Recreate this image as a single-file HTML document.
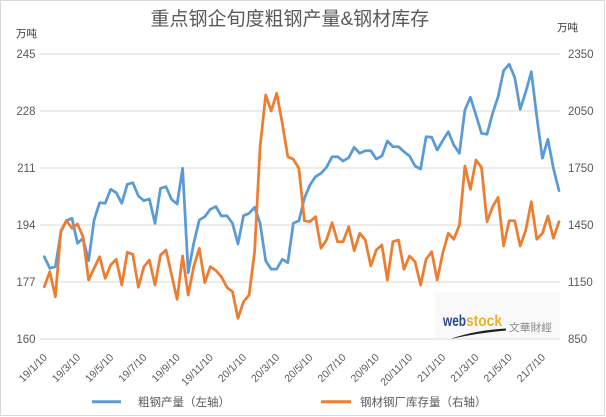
<!DOCTYPE html>
<html>
<head>
<meta charset="utf-8">
<style>
  html,body{margin:0;padding:0;background:#fff;}
  svg{display:block;}
  text{font-family:"Liberation Sans","Noto Sans CJK SC",sans-serif;}
</style>
</head>
<body>
<svg width="606" height="417" viewBox="0 0 606 417" xmlns="http://www.w3.org/2000/svg">
  <rect x="0" y="0" width="606" height="417" fill="#ffffff"/>
  <rect x="0.5" y="0.5" width="604" height="415" fill="none" stroke="#d9d9d9" stroke-width="1"/>

  <!-- Title -->
  <text x="150.5" y="25" font-size="19" fill="#595959">重点钢企旬度粗钢产量&amp;钢材库存</text>

  <!-- Unit labels -->
  <text x="16" y="37" font-size="10.5" fill="#333">万吨</text>
  <text x="557" y="31" font-size="10.5" fill="#333">万吨</text>

  <!-- Gridlines -->
  <g stroke="#d9d9d9" stroke-width="1">
    <line x1="40" y1="54" x2="560" y2="54"/>
    <line x1="40" y1="111" x2="560" y2="111"/>
    <line x1="40" y1="168" x2="560" y2="168"/>
    <line x1="40" y1="225" x2="560" y2="225"/>
    <line x1="40" y1="282" x2="560" y2="282"/>
    <line x1="40" y1="339" x2="560" y2="339"/>
  </g>

  <!-- Left axis labels -->
  <g font-size="11.5" fill="#595959" text-anchor="end">
    <text x="35.5" y="58">245</text>
    <text x="35.5" y="115">228</text>
    <text x="35.5" y="172">211</text>
    <text x="35.5" y="229">194</text>
    <text x="35.5" y="286">177</text>
    <text x="35.5" y="343">160</text>
  </g>
  <!-- Right axis labels -->
  <g font-size="11.5" fill="#595959">
    <text x="568" y="58">2350</text>
    <text x="568" y="115">2050</text>
    <text x="568" y="172">1750</text>
    <text x="568" y="229">1450</text>
    <text x="568" y="286">1150</text>
    <text x="568" y="343">850</text>
  </g>

  <!-- Watermark -->
  <rect x="435" y="292" width="125" height="46" fill="#f9f9f9"/>
  <text x="443" y="326" font-size="16" font-weight="bold" fill="#2d4a8a" textLength="23" lengthAdjust="spacingAndGlyphs">web</text>
  <text x="466" y="326" font-size="16" font-weight="bold" fill="#e6b325" textLength="36" lengthAdjust="spacingAndGlyphs">stock</text>
  <text x="509" y="331" font-size="10.5" fill="#888" textLength="43" lengthAdjust="spacingAndGlyphs">文華財經</text>
  <path d="M450,339 Q476,330 506,328.5 L506,330.5 Q478,333 450,339 Z" fill="#222"/>
  <line x1="435" y1="339" x2="560" y2="339" stroke="#d9d9d9" stroke-width="1"/>

  <!-- Blue series -->
  <polyline fill="none" stroke="#5b9bd5" stroke-width="2.75" stroke-linejoin="round" stroke-linecap="round" points="
44.3,256.7 49.8,268.3 55.4,266.7 60.9,231.7 66.4,220.7 72.0,218.3 77.5,243.3 83.0,238.3 88.6,260.7 94.1,220
99.6,202.7 105.2,203.3 110.7,189.3 116.2,192.7 121.8,203.3 127.3,184.3 132.8,182.7 138.4,196 143.9,200.7 149.4,199
155.0,223.3 160.5,188.3 166.0,186.7 171.6,199.3 177.1,204 182.6,168.3 188.2,272.7 193.7,243.3 199.3,220 204.8,216.7
210.3,209.3 215.9,206.5 221.4,216 226.9,215.7 232.5,223.3 238.0,244 243.5,215.7 249.1,213.3 254.6,207.3 260.1,223.3
265.7,260.7 271.2,269.3 276.7,269 282.3,259.3 287.8,262.7 293.3,223.3 298.9,220.7 304.4,198.3 309.9,185 315.5,176.7
321.0,173.3 326.5,167.3 332.1,156.7 337.6,156.7 343.1,161 348.7,157.7 354.2,147.3 359.7,153.3 365.3,150.7 370.8,150.7
376.3,159 381.9,156 387.4,141 392.9,146.7 398.5,146.7 404.0,151.7 409.5,156 415.1,166 420.6,169 426.1,136.7
431.7,137.3 437.2,150 442.7,140.7 448.3,131.7 453.8,145 459.4,153.3 464.9,110 470.4,97.3 476.0,115 481.5,133.3
487.0,134.3 492.6,113.3 498.1,96.7 503.6,70.7 509.2,64.3 514.7,77.3 520.2,109.3 525.8,91.7 531.3,71.7 536.8,116.7
542.4,158.3 547.9,139.3 553.4,168.3 559.0,190.7"/>

  <!-- Orange series -->
  <polyline fill="none" stroke="#ed7d31" stroke-width="2.75" stroke-linejoin="round" stroke-linecap="round" points="
44.3,286.7 49.8,271.7 55.4,296.7 60.9,230.7 66.4,220.7 72.0,228.3 77.5,224 83.0,236.7 88.6,280 94.1,268.3
99.6,256.7 105.2,278.3 110.7,265 116.2,259.3 121.8,285 127.3,252.3 132.8,254.3 138.4,287.3 143.9,266.7 149.4,260
155.0,285 160.5,255 166.0,250 171.6,275 177.1,299.3 182.6,256 188.2,295 193.7,266.7 199.3,248.3 204.8,282.7
210.3,266.7 215.9,270.5 221.4,276.7 226.9,287.3 232.5,291.7 238.0,318.3 243.5,301.7 249.1,295 254.6,251.7 260.1,146.7
265.7,95 271.2,111 276.7,93.3 282.3,123.3 287.8,156.7 293.3,159.3 298.9,168.3 304.4,220.7 309.9,221.7 315.5,216.7
321.0,248.3 326.5,240 332.1,222.7 337.6,241.7 343.1,241.7 348.7,226.7 354.2,250.7 359.7,233.3 365.3,240 370.8,266
376.3,250 381.9,245 387.4,280 392.9,241.7 398.5,240 404.0,269.3 409.5,256 415.1,261.7 420.6,285 426.1,259.3
431.7,251.7 437.2,280 442.7,253.3 448.3,233.3 453.8,239.3 459.4,225 464.9,166 470.4,189.3 476.0,160 481.5,167.3
487.0,221.7 492.6,206.7 498.1,197.3 503.6,246 509.2,220.7 514.7,220.7 520.2,246 525.8,230 531.3,201.7 536.8,239.3
542.4,233.3 547.9,216 553.4,238.3 559.0,221.7"/>

  <!-- X axis labels (rotated) -->
  <g font-size="10.5" fill="#595959" text-anchor="end">
    <text transform="translate(47.8,358) rotate(-45)">19/1/10</text>
    <text transform="translate(81.0,358) rotate(-45)">19/3/10</text>
    <text transform="translate(114.2,358) rotate(-45)">19/5/10</text>
    <text transform="translate(147.4,358) rotate(-45)">19/7/10</text>
    <text transform="translate(180.6,358) rotate(-45)">19/9/10</text>
    <text transform="translate(213.8,358) rotate(-45)">19/11/10</text>
    <text transform="translate(247.0,358) rotate(-45)">20/1/10</text>
    <text transform="translate(280.2,358) rotate(-45)">20/3/10</text>
    <text transform="translate(313.4,358) rotate(-45)">20/5/10</text>
    <text transform="translate(346.6,358) rotate(-45)">20/7/10</text>
    <text transform="translate(379.8,358) rotate(-45)">20/9/10</text>
    <text transform="translate(413.0,358) rotate(-45)">20/11/10</text>
    <text transform="translate(446.2,358) rotate(-45)">21/1/10</text>
    <text transform="translate(479.4,358) rotate(-45)">21/3/10</text>
    <text transform="translate(512.7,358) rotate(-45)">21/5/10</text>
    <text transform="translate(545.9,358) rotate(-45)">21/7/10</text>
  </g>

  <!-- Legend -->
  <line x1="92" y1="401.7" x2="121" y2="401.7" stroke="#5b9bd5" stroke-width="3"/>
  <text x="138" y="406" font-size="11.5" fill="#595959">粗钢产量（左轴）</text>
  <line x1="321" y1="401.7" x2="351" y2="401.7" stroke="#ed7d31" stroke-width="3"/>
  <text x="360" y="406" font-size="11.5" fill="#595959">钢材钢厂库存量（右轴）</text>
</svg>
</body>
</html>
